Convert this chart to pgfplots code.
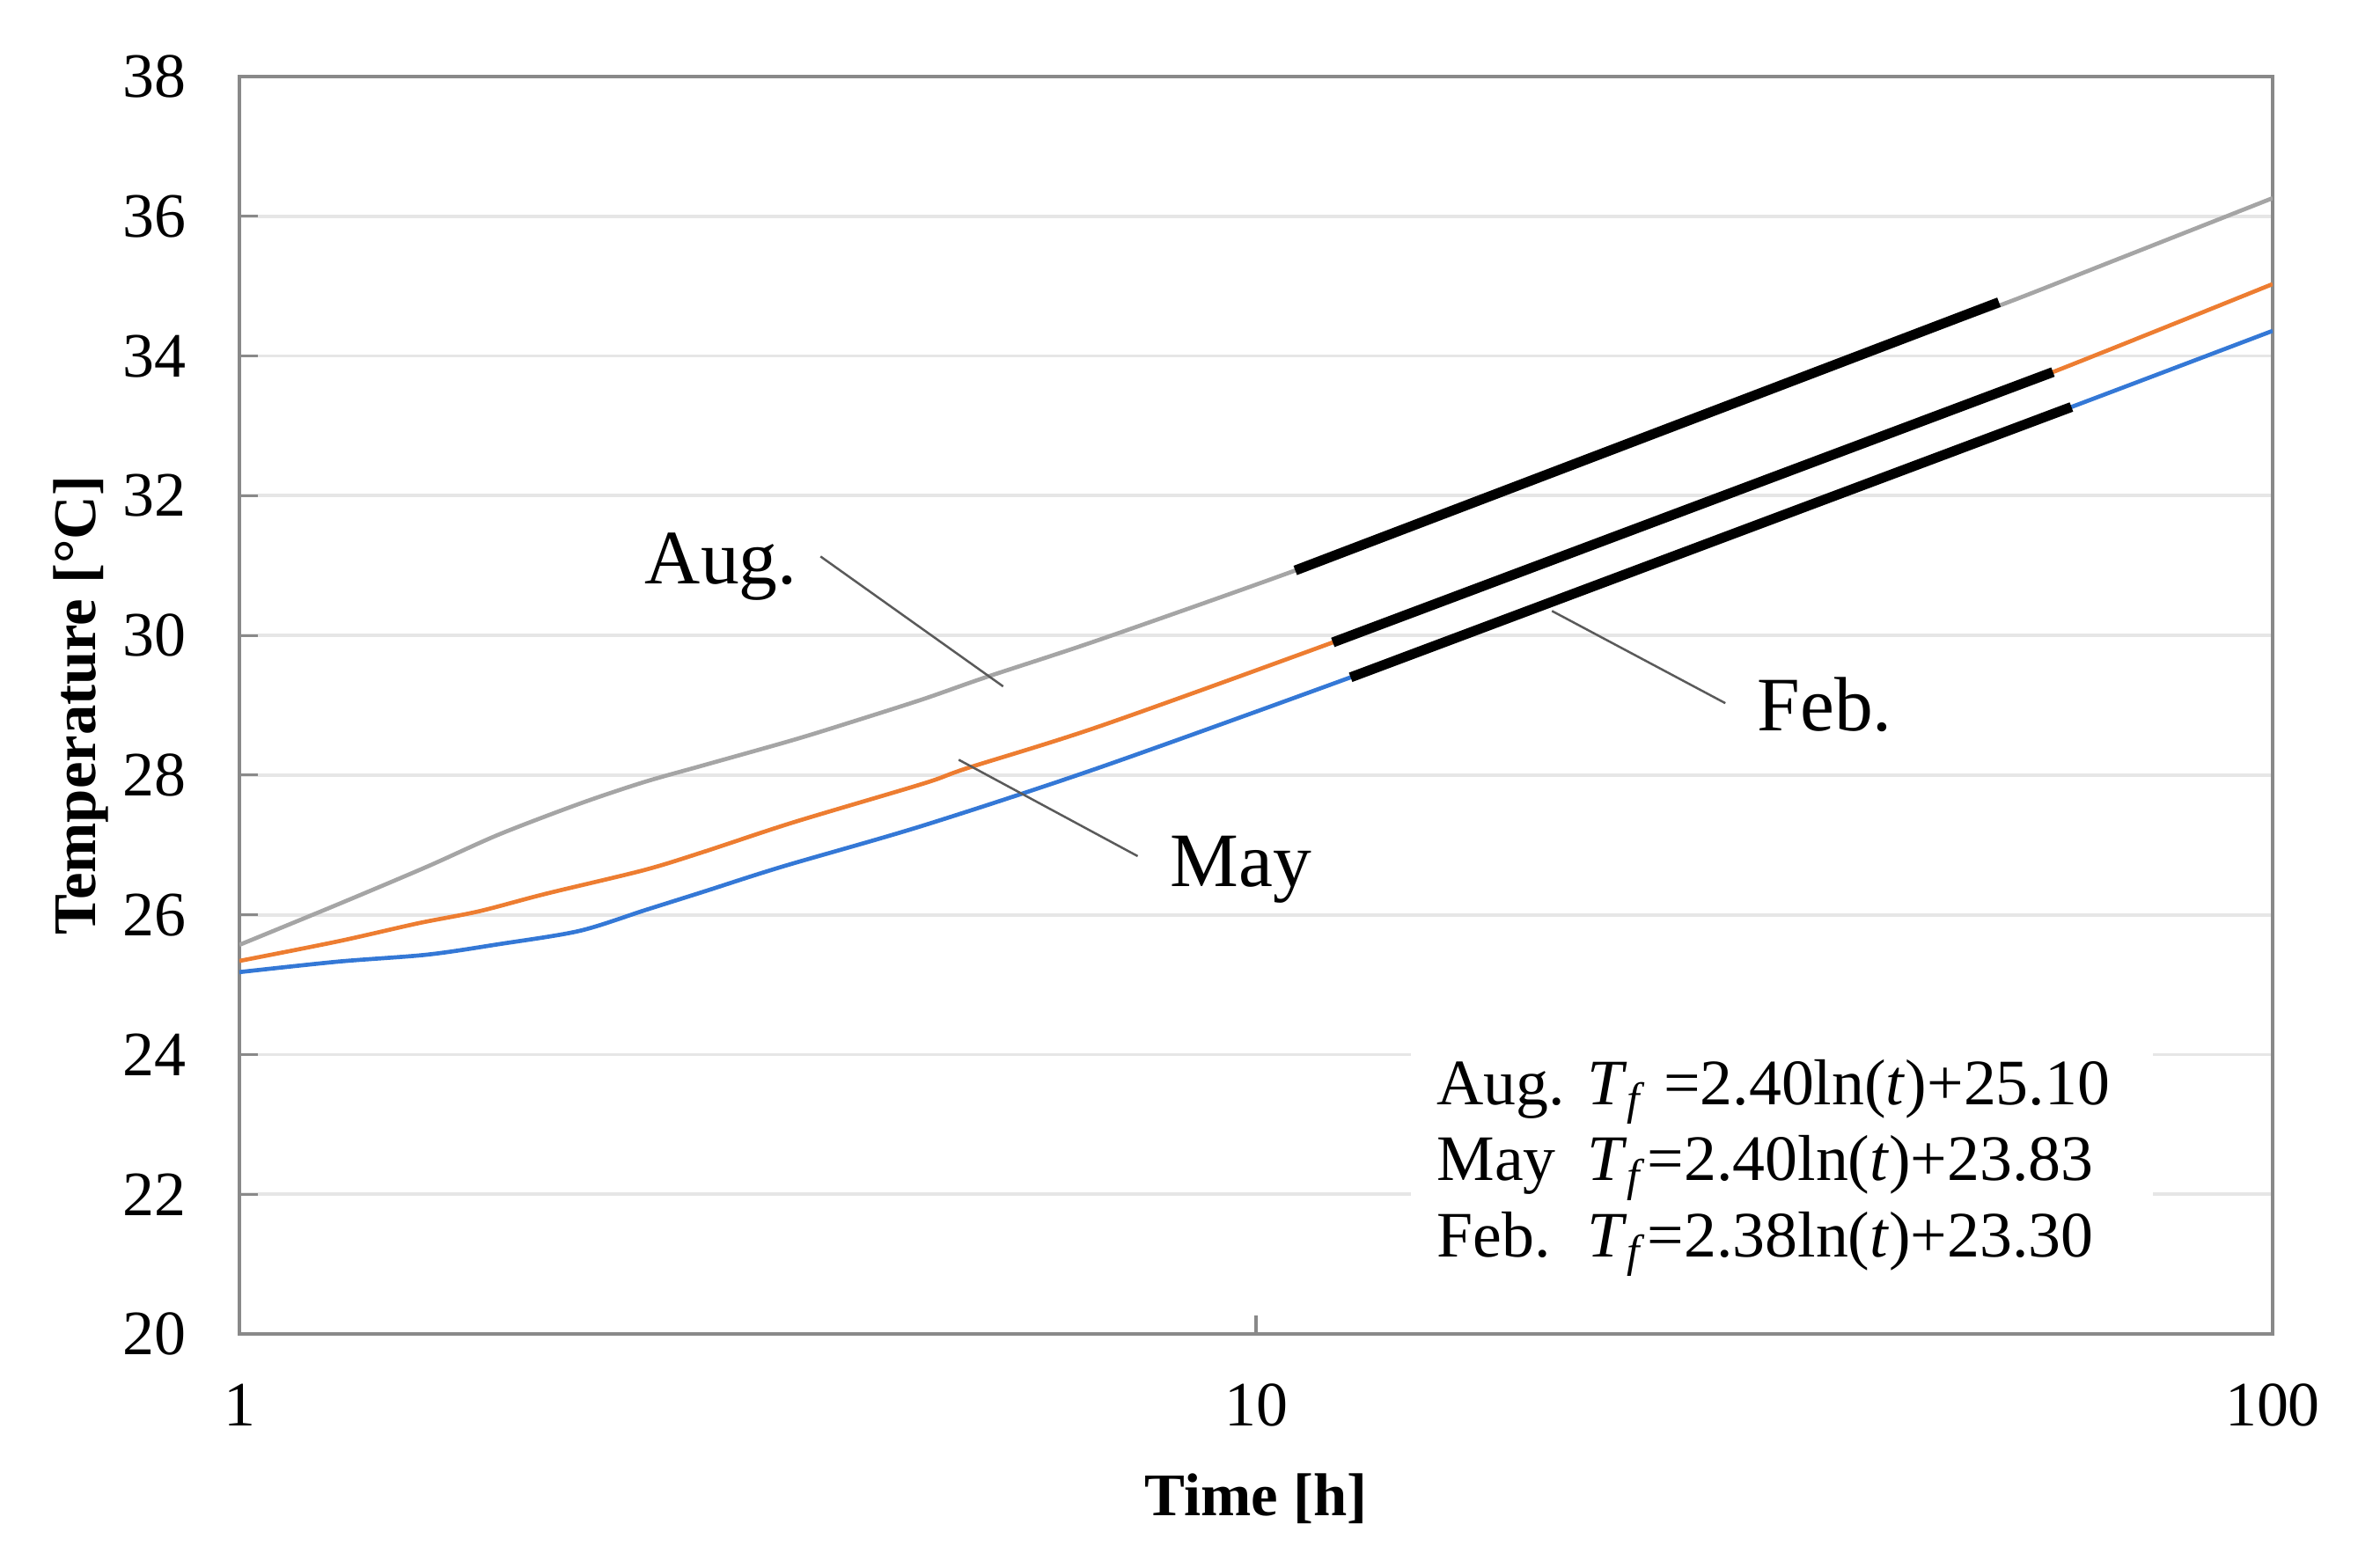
\documentclass[border=0pt]{standalone}
\usepackage{fontspec}
\setmainfont{Liberation Serif}
\usepackage{pgfplots}
\pgfplotsset{compat=1.18}

\definecolor{augcol}{RGB}{165,165,165}
\definecolor{maycol}{RGB}{237,125,49}
\definecolor{febcol}{RGB}{52,120,214}
\definecolor{framecol}{RGB}{137,137,137}
\definecolor{gridcol}{RGB}{230,230,230}
\definecolor{leadcol}{RGB}{90,90,90}

\begin{document}
\begin{tikzpicture}[font=\fontsize{11.5}{13.8}\selectfont]
\useasboundingbox (-43.52pt,-42.4pt) rectangle (385.12pt,242.56pt);
\begin{axis}[
    at={(0,0)}, anchor=south west,
    scale only axis,
    width=369.6pt, height=228.64pt,
    xmode=log, xmin=1, xmax=100,
    ymin=20, ymax=38,
    xtick={1,10,100}, xticklabels={1,10,100},
    xminorticks=false,
    ytick={20,22,...,38}, yticklabels={20,22,24,26,28,30,32,34,36,38},
    xtick pos=bottom, ytick pos=left,
    tick align=inside,
    major tick length=3.4pt,
    tick style={framecol, line width=0.5pt},
    axis line style={framecol, line width=0.6pt},
    ymajorgrids,
    grid style={gridcol, line width=0.6pt},
    xticklabel style={yshift=-5.6pt},
    yticklabel style={xshift=-6.2pt},
    xlabel={Time [h]},
    ylabel={Temperature [°C]},
    xlabel style={at={(axis description cs:0.5,-0.1443)}, anchor=base,
        font=\fontsize{11}{13}\selectfont\bfseries},
    ylabel style={at={(axis description cs:-0.0709,0.5)}, anchor=base,
        font=\fontsize{11}{13}\selectfont\bfseries},
]

% Aug.
\addplot[augcol, line width=0.75pt, smooth] table {
x y
1 25.57
1.25 26.15
1.53 26.69
1.8 27.15
2.16 27.59
2.5 27.90
2.86 28.14
3.5 28.50
4.0 28.76
4.71 29.09
5.42 29.40
7.02 29.94
10.93 30.93
15 31.70
20 32.38
30 33.35
40 34.05
53.8 34.72
69.4 35.35
100 36.26
};

% May
\addplot[maycol, line width=0.75pt, smooth] table {
x y
1 25.34
1.25 25.62
1.5 25.88
1.72 26.05
2.0 26.30
2.5 26.64
2.86 26.90
3.5 27.32
4.71 27.88
5.2 28.10
7.02 28.70
11.9 29.90
20 31.12
30 32.09
40 32.77
60.8 33.77
100 35.03
};

% Feb.
\addplot[febcol, line width=0.75pt, smooth] table {
x y
1 25.18
1.25 25.33
1.53 25.43
1.8 25.58
2.16 25.77
2.51 26.07
2.86 26.33
3.42 26.69
4.71 27.28
7.02 28.11
12.39 29.40
20 30.53
30 31.50
40 32.18
63.4 33.27
100 34.36
};

% fitted lines
\addplot[black, line width=1.8pt] coordinates {(10.93,30.93) (53.8,34.77)};
\addplot[black, line width=1.8pt] coordinates {(11.9,29.90) (60.8,33.77)};
\addplot[black, line width=1.8pt] coordinates {(12.39,29.40) (63.4,33.27)};

% labels with leader lines
\draw[leadcol, line width=0.4pt] (axis cs:3.73,31.13) -- (axis cs:5.64,29.27);
\draw[leadcol, line width=0.4pt] (axis cs:5.10,28.22) -- (axis cs:7.65,26.84);
\draw[leadcol, line width=0.4pt] (axis cs:19.55,30.35) -- (axis cs:28.95,29.03);
\node[anchor=base west, inner sep=0pt, font=\fontsize{14}{16}\selectfont] at (axis cs:2.50,30.74) {Aug.};
\node[anchor=base west, inner sep=0pt, font=\fontsize{14}{16}\selectfont] at (axis cs:8.22,26.41) {May};
\node[anchor=base west, inner sep=0pt, font=\fontsize{14}{16}\selectfont] at (axis cs:31.05,28.63) {Feb.};

% equations
\fill[white] (axis cs:14.2,20.64) rectangle (axis cs:76.3,24.26);
\node[anchor=base west, inner sep=0pt, font=\fontsize{11.8}{13.8}\selectfont] at (axis cs:15.03,23.28) {%
\begin{tabular}[t]{@{}l@{\hspace{4pt}}l@{}}
Aug. & \textit{T}\textsubscript{\textit{f}} =2.40ln(\textit{t})+25.10\\
May  & \textit{T}\textsubscript{\textit{f}}=2.40ln(\textit{t})+23.83\\
Feb. & \textit{T}\textsubscript{\textit{f}}=2.38ln(\textit{t})+23.30
\end{tabular}};
\end{axis}
\end{tikzpicture}
\end{document}
